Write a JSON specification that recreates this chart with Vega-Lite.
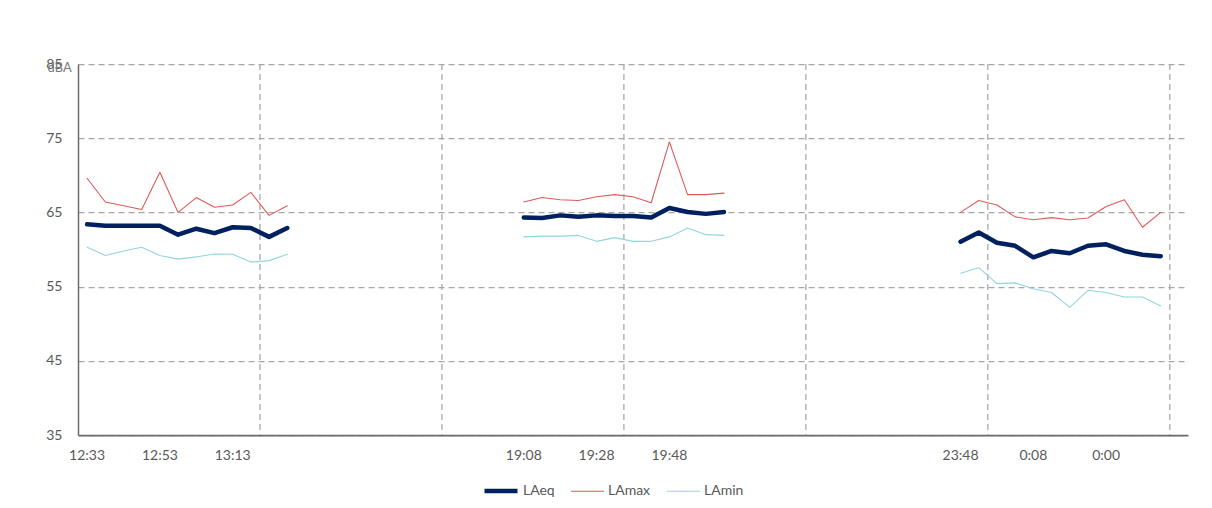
{
  "$schema": "https://vega.github.io/schema/vega-lite/v6.json",
  "width": 1110,
  "height": 371,
  "autosize": {"type": "none"},
  "padding": {"left": 78, "top": 64, "right": 24, "bottom": 73},
  "background": "white",
  "config": {
    "font": "Lato",
    "view": {"stroke": null},
    "axis": {"labelFont": "Lato", "labelFontSize": 14, "labelColor": "#595959", "titleFont": "Lato"},
    "legend": {"labelFont": "Lato", "labelFontSize": 14, "labelColor": "#595959"}
  },
  "datasets": {
    "levels": [
      {"t": "12:33", "seg": 1, "LAeq": 63.4, "LAmax": 69.6, "LAmin": 60.3},
      {"t": "12:38", "seg": 1, "LAeq": 63.2, "LAmax": 66.4, "LAmin": 59.2},
      {"t": "12:43", "seg": 1, "LAeq": 63.2, "LAmax": 65.9, "LAmin": 59.8},
      {"t": "12:48", "seg": 1, "LAeq": 63.2, "LAmax": 65.4, "LAmin": 60.3},
      {"t": "12:53", "seg": 1, "LAeq": 63.2, "LAmax": 70.4, "LAmin": 59.2},
      {"t": "12:58", "seg": 1, "LAeq": 62.0, "LAmax": 65.0, "LAmin": 58.7},
      {"t": "13:03", "seg": 1, "LAeq": 62.8, "LAmax": 67.0, "LAmin": 59.0},
      {"t": "13:08", "seg": 1, "LAeq": 62.2, "LAmax": 65.7, "LAmin": 59.4},
      {"t": "13:13", "seg": 1, "LAeq": 63.0, "LAmax": 66.0, "LAmin": 59.35},
      {"t": "13:18", "seg": 1, "LAeq": 62.9, "LAmax": 67.7, "LAmin": 58.3},
      {"t": "13:23", "seg": 1, "LAeq": 61.7, "LAmax": 64.6, "LAmin": 58.5},
      {"t": "13:28", "seg": 1, "LAeq": 62.9, "LAmax": 65.9, "LAmin": 59.35},
      {"t": "19:08", "seg": 2, "LAeq": 64.3, "LAmax": 66.4, "LAmin": 61.7},
      {"t": "19:13", "seg": 2, "LAeq": 64.25, "LAmax": 67.0, "LAmin": 61.8},
      {"t": "19:18", "seg": 2, "LAeq": 64.6, "LAmax": 66.7, "LAmin": 61.8},
      {"t": "19:23", "seg": 2, "LAeq": 64.4, "LAmax": 66.6, "LAmin": 61.9},
      {"t": "19:28", "seg": 2, "LAeq": 64.6, "LAmax": 67.1, "LAmin": 61.1},
      {"t": "19:33", "seg": 2, "LAeq": 64.5, "LAmax": 67.4, "LAmin": 61.6},
      {"t": "19:38", "seg": 2, "LAeq": 64.5, "LAmax": 67.1, "LAmin": 61.1},
      {"t": "19:43", "seg": 2, "LAeq": 64.3, "LAmax": 66.3, "LAmin": 61.1},
      {"t": "19:48", "seg": 2, "LAeq": 65.6, "LAmax": 74.5, "LAmin": 61.7},
      {"t": "19:53", "seg": 2, "LAeq": 65.05, "LAmax": 67.4, "LAmin": 62.9},
      {"t": "19:58", "seg": 2, "LAeq": 64.8, "LAmax": 67.4, "LAmin": 62.0},
      {"t": "20:03", "seg": 2, "LAeq": 65.05, "LAmax": 67.6, "LAmin": 61.9},
      {"t": "23:48", "seg": 3, "LAeq": 61.05, "LAmax": 65.0, "LAmin": 56.8},
      {"t": "23:53", "seg": 3, "LAeq": 62.3, "LAmax": 66.6, "LAmin": 57.55},
      {"t": "23:58", "seg": 3, "LAeq": 60.9, "LAmax": 66.0, "LAmin": 55.4},
      {"t": "0:03", "seg": 3, "LAeq": 60.5, "LAmax": 64.4, "LAmin": 55.5},
      {"t": "0:08", "seg": 3, "LAeq": 58.95, "LAmax": 64.0, "LAmin": 54.7},
      {"t": "0:13", "seg": 3, "LAeq": 59.8, "LAmax": 64.3, "LAmin": 54.2},
      {"t": "0:18", "seg": 3, "LAeq": 59.5, "LAmax": 64.0, "LAmin": 52.2},
      {"t": "0:23", "seg": 3, "LAeq": 60.5, "LAmax": 64.25, "LAmin": 54.5},
      {"t": "0:00", "seg": 3, "LAeq": 60.7, "LAmax": 65.8, "LAmin": 54.2},
      {"t": "0:05", "seg": 3, "LAeq": 59.8, "LAmax": 66.7, "LAmin": 53.6},
      {"t": "0:10", "seg": 3, "LAeq": 59.3, "LAmax": 63.0, "LAmin": 53.6},
      {"t": "0:15", "seg": 3, "LAeq": 59.1, "LAmax": 65.0, "LAmin": 52.4}
    ],
    "gridcats": [
      {"t": "13:23"}, {"t": "_20"}, {"t": "19:38"}, {"t": "_40"}, {"t": "23:58"}, {"t": "_60"}
    ]
  },
  "layer": [
    {
      "data": {"name": "gridcats"},
      "mark": {"type": "rule", "color": "#a6a6a6", "strokeWidth": 1.25, "strokeDash": [6, 4]},
      "encoding": {
        "x": {"field": "t", "type": "ordinal", "bandPosition": 0}
      }
    },
    {
      "data": {"name": "levels"},
      "transform": [{"fold": ["LAeq", "LAmax", "LAmin"], "as": ["series", "v"]}],
      "mark": {"type": "line", "strokeJoin": "round", "strokeCap": "round"},
      "encoding": {
        "x": {
          "field": "t",
          "type": "ordinal",
          "scale": {
            "type": "band",
            "paddingInner": 0,
            "paddingOuter": 0,
            "domain": [
              "12:33","12:38","12:43","12:48","12:53","12:58","13:03","13:08","13:13","13:18","13:23","13:28",
              "_12","_13","_14","_15","_16","_17","_18","_19","_20","_21","_22","_23",
              "19:08","19:13","19:18","19:23","19:28","19:33","19:38","19:43","19:48","19:53","19:58","20:03",
              "_36","_37","_38","_39","_40","_41","_42","_43","_44","_45","_46","_47",
              "23:48","23:53","23:58","0:03","0:08","0:13","0:18","0:23","0:00","0:05","0:10","0:15",
              "_60"
            ]
          },
          "axis": {
            "title": null,
            "values": ["12:33","12:53","13:13","19:08","19:28","19:48","23:48","0:08","0:00"],
            "bandPosition": 0.5,
            "labelAngle": 0,
            "labelAlign": "center",
            "ticks": false,
            "grid": false,
            "labelPadding": 20,
            "domainColor": "#6b6b6b",
            "domainWidth": 1.75
          }
        },
        "y": {
          "field": "v",
          "type": "quantitative",
          "scale": {"domain": [35, 85], "nice": false, "zero": false},
          "axis": {
            "values": [35, 45, 55, 65, 75, 85],
            "title": "dBA",
            "titleAngle": 0,
            "titleAlign": "left",
            "titleBaseline": "middle",
            "titleX": -31,
            "titleY": 3,
            "titleFontSize": 13,
            "titleFontWeight": "normal",
            "titleColor": "#7a7a7a",
            "ticks": false,
            "labelPadding": 16,
            "grid": true,
            "gridColor": "#a6a6a6",
            "gridDash": [6, 4],
            "gridWidth": 1.25,
            "domainColor": "#6b6b6b",
            "domainWidth": 1.5
          }
        },
        "detail": {"field": "seg"},
        "order": {"value": null},
        "color": {
          "field": "series",
          "type": "nominal",
          "scale": {"domain": ["LAeq", "LAmax", "LAmin"], "range": ["#002060", "#E05A5A", "#92D6DC"]},
          "legend": {
            "title": null,
            "orient": "none",
            "direction": "horizontal",
            "legendX": 404,
            "legendY": 408,
            "symbolType": "stroke",
            "symbolSize": 1089,
            "labelOffset": 3,
            "columnPadding": 13
          }
        },
        "strokeWidth": {
          "field": "series",
          "type": "nominal",
          "scale": {"type": "ordinal", "domain": ["LAeq", "LAmax", "LAmin"], "range": [4.5, 1.1, 1.1]},
          "legend": {
            "title": null,
            "orient": "none",
            "direction": "horizontal",
            "legendX": 404,
            "legendY": 408,
            "symbolType": "stroke",
            "symbolSize": 1089,
            "labelOffset": 3,
            "columnPadding": 13
          }
        }
      }
    }
  ]
}
